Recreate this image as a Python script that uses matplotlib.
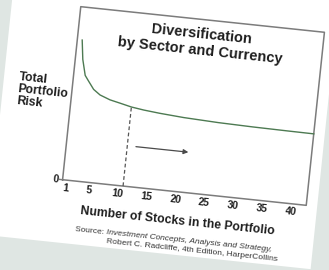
import matplotlib
matplotlib.use('Agg')
import matplotlib.pyplot as plt
import matplotlib.transforms as mtransforms
from matplotlib.patches import Rectangle

STOCKS = [1.15, 1.6, 2.3, 2.9, 4, 5.2, 7, 8.8, 10.8, 13, 15.8, 20, 26, 32, 38, 42.6]
RISK = [0.81, 0.70, 0.61, 0.583, 0.535, 0.507, 0.485, 0.472, 0.457, 0.447,
        0.438, 0.428, 0.42, 0.416, 0.414, 0.413]
X_TICKS = [1, 5, 10, 15, 20, 25, 30, 35, 40]
X_TICK_LABELS = ['1', '5', '10', '15', '20', '25', '30', '35', '40']
CUTOFF = 10.8
CUTOFF_RISK = 0.457
ARROW_FROM, ARROW_TO, ARROW_Y = 12.3, 21.4, 0.233

TITLE = "Diversification\nby Sector and Currency"
YLABEL = "Total\nPortfolio\nRisk"
XLABEL = "Number of Stocks in the Portfolio"

W, H = 329, 270
TILT = -6.0          # the photo is turned clockwise
CX, CY = 193.5, H - 106

FONT = 'Liberation Sans'
INK = '#1e1e1e'
FRAME = '#7c7c7c'
CURVE = '#4d7a52'

plt.rcParams['font.family'] = [FONT, 'DejaVu Sans']

fig = plt.figure(figsize=(W / 100, H / 100), dpi=100)
fig.patch.set_facecolor('#dfe6e3')

rot = mtransforms.Affine2D().rotate_deg_around(CX, CY, TILT)

# white sheet behind the chart
paper = Rectangle((2, H - 256), 325, 300, facecolor='white', edgecolor='none',
                  transform=mtransforms.IdentityTransform() + rot, zorder=-5)
fig.add_artist(paper)

ax = fig.add_axes([71 / W, 77 / H, 245 / W, 174 / H])
ax.set_zorder(2)
ax.set_xlim(0.3, 42.6)
ax.set_ylim(0, 1)
ax.axis('off')

T = ax.transData + rot
A = ax.transAxes + rot

def shifted(base, dx, dy):
    return base + mtransforms.Affine2D().translate(dx, dy) + rot

# frame
ax.plot([0, 1, 1, 0, 0], [0, 0, 1, 1, 0], color=FRAME, lw=1.1,
        transform=A, clip_on=False)

# risk curve
ax.plot(STOCKS, RISK, color=CURVE, lw=1.0, transform=T, clip_on=False)

# dashed cut-off line and arrow
ax.plot([CUTOFF, CUTOFF], [0, CUTOFF_RISK], color='#555555', lw=0.9,
        ls=(0, (3, 2)), transform=T, clip_on=False)
ax.annotate('', xy=(ARROW_TO, ARROW_Y), xytext=(ARROW_FROM, ARROW_Y),
            xycoords=T, textcoords=T, annotation_clip=False,
            arrowprops=dict(arrowstyle='-|>', color='#4a4a4a', lw=0.9,
                            mutation_scale=7, shrinkA=0, shrinkB=0))

# x tick labels
for pos, lab in zip(X_TICKS, X_TICK_LABELS):
    ax.text(pos, 0, lab, transform=shifted(ax.transData, 0, -8),
            ha='center', va='center', fontsize=7.5, fontweight='bold',
            color=INK, rotation=TILT, rotation_mode='anchor')

# y tick at zero
ax.plot([-3 / 245, 0], [0, 0], color=FRAME, lw=1.0, transform=A, clip_on=False)
ax.text(0, 0, '0', transform=shifted(ax.transAxes, -3.5, 0),
        ha='right', va='center', fontsize=7.5, fontweight='bold',
        color=INK, rotation=TILT, rotation_mode='anchor')

# title
ax.text(0.503, 0.868, TITLE, transform=A, ha='center', va='center',
        fontsize=10.5, fontweight='bold', color=INK, linespacing=1.2,
        rotation=TILT, rotation_mode='anchor')

# y label
ax.text(-0.222, 0.491, YLABEL, transform=A, ha='left', va='center',
        multialignment='left', fontsize=8.8, fontweight='bold', color=INK,
        linespacing=1.05, rotation=TILT, rotation_mode='anchor')

# x label
ax.text(0.482, -0.167, XLABEL, transform=A, ha='center', va='center',
        fontsize=8.8, fontweight='bold', color=INK,
        rotation=TILT, rotation_mode='anchor')

# source lines
ax.text(0.2, -0.284, 'Source: ', transform=A, ha='right', va='baseline',
        fontsize=6.0, color='#333333', rotation=TILT, rotation_mode='anchor')
ax.text(0.2, -0.284, 'Investment Concepts, Analysis and Strategy,',
        transform=A, ha='left', va='baseline', fontsize=6.0, style='italic',
        color='#333333', rotation=TILT, rotation_mode='anchor')
ax.text(0.556, -0.327, 'Robert C. Radcliffe, 4th Edition, HarperCollins',
        transform=A, ha='center', va='center', fontsize=6.0,
        color='#333333', rotation=TILT, rotation_mode='anchor')

fig.savefig('out.png', dpi=100, facecolor=fig.get_facecolor())
